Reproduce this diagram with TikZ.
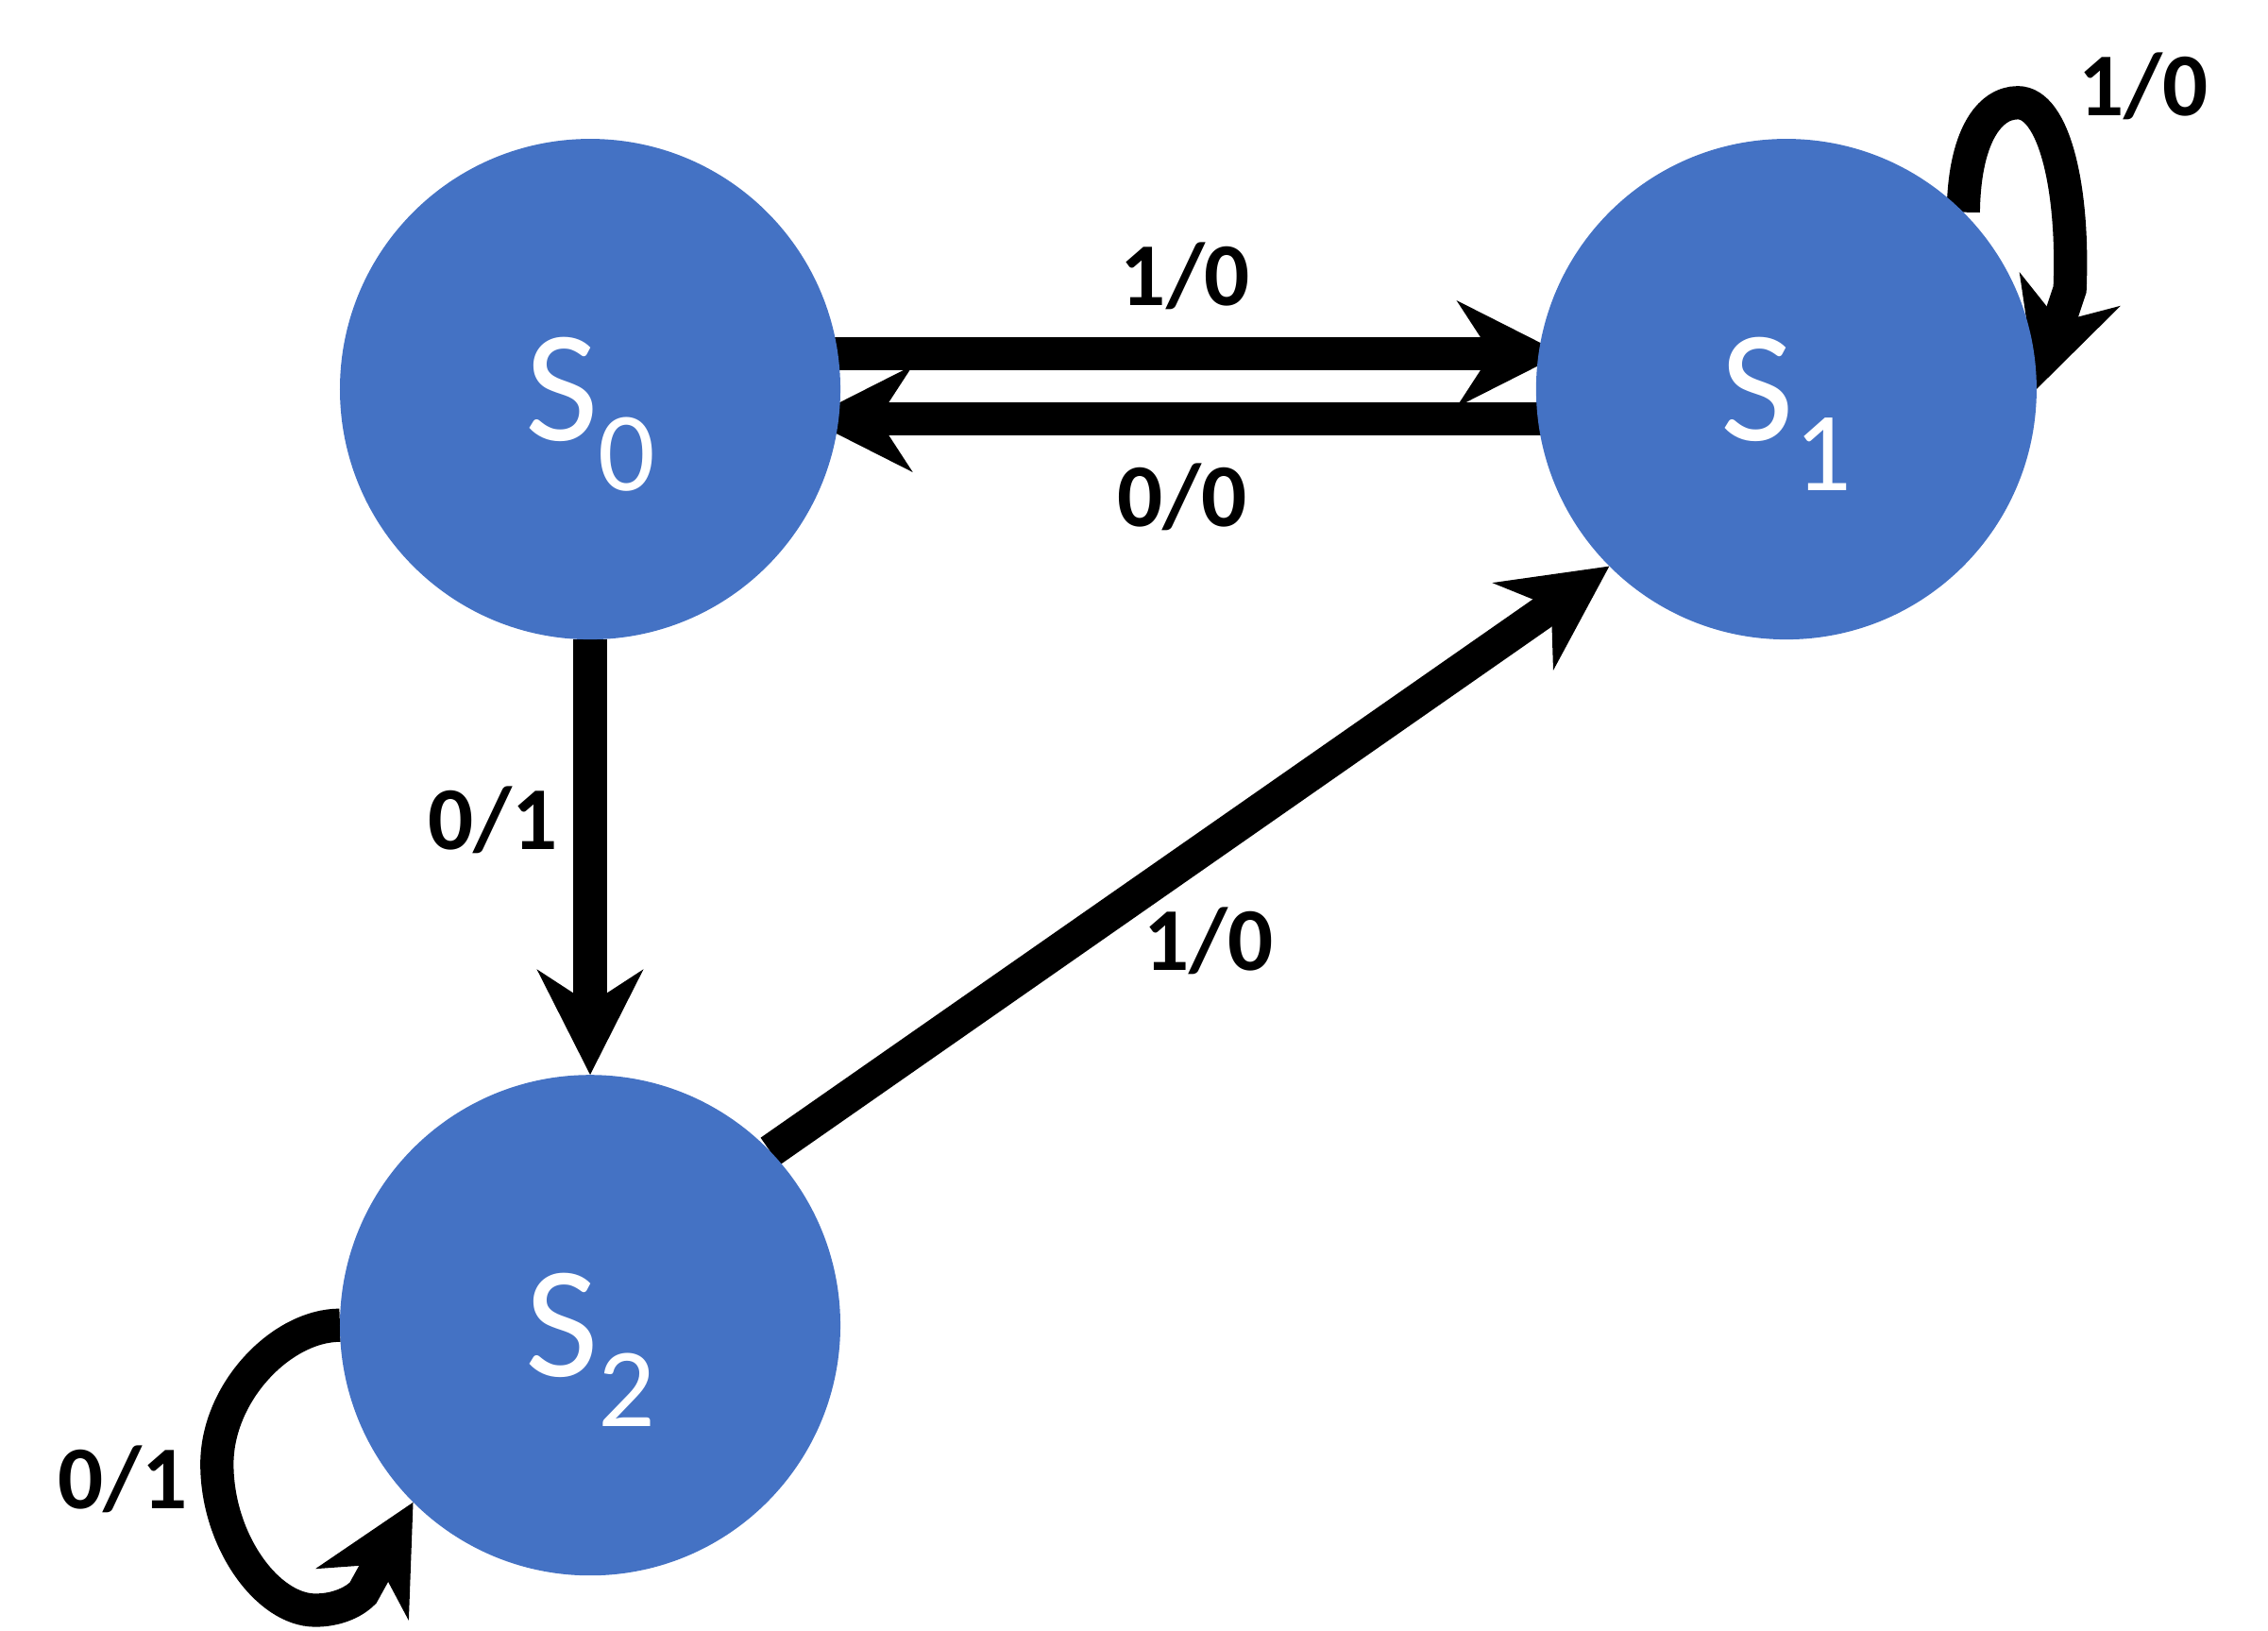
\documentclass[tikz,border=0pt]{standalone}
\usepackage{fontspec}
\setmainfont{Carlito}
\usetikzlibrary{arrows.meta,calc,backgrounds}
\definecolor{stateblue}{HTML}{4472C4}
\begin{document}
\begin{tikzpicture}[x=1pt,y=-1pt,
  state/.style={circle, fill=stateblue, minimum size=346pt, inner sep=0pt, outer sep=0pt,
    text=white, font=\fontsize{110}{110}\selectfont},
  trans/.style={line width=23pt, line cap=butt,
    -{Stealth[length=72pt,width=72pt,inset=23pt]}},
  lbl/.style={font=\bfseries\fontsize{62}{62}\selectfont, anchor=base, inner sep=0pt}]
\useasboundingbox (0,0) rectangle (1568,1127);
\node[state] (S0) at (408,269) {S\raisebox{-34.8pt}[0pt][0pt]{\fontsize{78}{78}\selectfont 0}};
\node[state] (S1) at (1235,269) {S\raisebox{-34.8pt}[0pt][0pt]{\fontsize{78}{78}\selectfont 1}};
\node[state] (S2) at (408,916) {S\raisebox{-34.8pt}[0pt][0pt]{\fontsize{78}{78}\selectfont 2}};
\begin{pgfonlayer}{background}
\draw[trans] ($(S0.center)+(150,-24.5)$) -- ($(S1.center)+(-155,-24.5)$);
\draw[trans] ($(S1.center)+(-150,20.5)$) -- ($(S0.center)+(150,20.5)$);
\draw[trans] (S0.south) -- (S2.north);
\draw[trans] (S2.44) -- (S1.225);
\draw[trans] (S1.45) .. controls (1358,95) and (1375,71) .. (1395,71)
  .. controls (1420,71) and (1434,130) .. (1431,200) -- (S1.east);
\draw[trans] (S2.west) .. controls (195,916) and (150,962) .. (150,1012)
  .. controls (150,1065) and (185,1113) .. (218,1113)
  .. controls (232,1113) and (244,1108) .. (251,1101) -- (S2.225);
\end{pgfonlayer}
\node[lbl] (l1) at (819.5,211) {1/0};
\node[lbl] (l2) at (817,364) {0/0};
\node[lbl] (l3) at (340.5,587) {0/1};
\node[lbl] (l4) at (835.5,671) {1/0};
\node[lbl] (l5) at (1482,80) {1/0};
\node[lbl] (l6) at (85,1043) {0/1};
\end{tikzpicture}
\end{document}
